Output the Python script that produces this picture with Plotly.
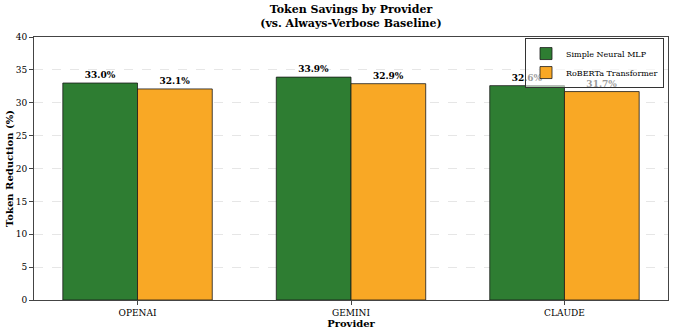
import plotly.graph_objects as go

providers = ["OPENAI", "GEMINI", "CLAUDE"]
mlp_savings = [33.0, 33.9, 32.6]
roberta_savings = [32.1, 32.9, 31.7]
y_ticks = [0, 5, 10, 15, 20, 25, 30, 35, 40]

FONT = "DejaVu Serif"

fig = go.Figure()

fig.add_trace(go.Bar(
    name="Simple Neural MLP",
    x=providers,
    y=mlp_savings,
    marker=dict(color="#2E7D32", line=dict(color="#1a1a1a", width=0.8)),
    text=[f"<b>{v:.1f}%</b>" for v in mlp_savings],
    textposition="outside",
    textfont=dict(family=FONT, size=9, color="black"),
    cliponaxis=False,
))

fig.add_trace(go.Bar(
    name="RoBERTa Transformer",
    x=providers,
    y=roberta_savings,
    marker=dict(color="#F9A825", line=dict(color="#1a1a1a", width=0.8)),
    text=[f"<b>{v:.1f}%</b>" for v in roberta_savings],
    textposition="outside",
    textfont=dict(family=FONT, size=9, color="black"),
    cliponaxis=False,
))

fig.update_layout(
    width=674,
    height=333,
    barmode="group",
    bargap=0.3,
    bargroupgap=0,
    plot_bgcolor="white",
    paper_bgcolor="white",
    font=dict(family=FONT, size=10, color="black"),
    title=dict(
        text="<b>Token Savings by Provider<br>(vs. Always-Verbose Baseline)</b>",
        x=0.5, xanchor="center", xref="paper",
        y=0.962, yanchor="top", yref="container",
        font=dict(family=FONT, size=11),
    ),
    margin=dict(l=34, r=6, t=37, b=33, autoexpand=False),
    # legend can't get as compact as the original, so keep it see-through
    legend=dict(
        x=0.9937, y=0.996, xanchor="right", yanchor="top",
        bgcolor="rgba(255,255,255,0.6)", bordercolor="#333", borderwidth=1,
        font=dict(family=FONT, size=8),
        itemwidth=30,
        tracegroupgap=0,
    ),
)

fig.update_xaxes(
    range=[-0.485, 2.485],
    automargin=False,
    showline=True, linecolor="#444", linewidth=1, mirror=True,
    ticks="outside", ticklen=4, tickcolor="#444",
    tickfont=dict(family=FONT, size=9),
    title=dict(text="<b>Provider</b>", font=dict(family=FONT, size=10), standoff=2),
    showgrid=False,
)

fig.update_yaxes(
    range=[0, 40],
    automargin=False,
    tickvals=y_ticks,
    showline=True, linecolor="#444", linewidth=1, mirror=True,
    ticks="outside", ticklen=4, tickcolor="#444",
    tickfont=dict(family=FONT, size=9),
    title=dict(text="<b>Token Reduction (%)</b>", font=dict(family=FONT, size=10), standoff=0),
    showgrid=True, gridcolor="#e6e6e6", griddash="dash", gridwidth=0.8,
    zeroline=False,
)

# the page has a default body margin; drop it so the figure sits at 0,0
fig.write_html(
    "out.html",
    config={"displayModeBar": False},
    post_script="document.body.style.margin='0';",
)
